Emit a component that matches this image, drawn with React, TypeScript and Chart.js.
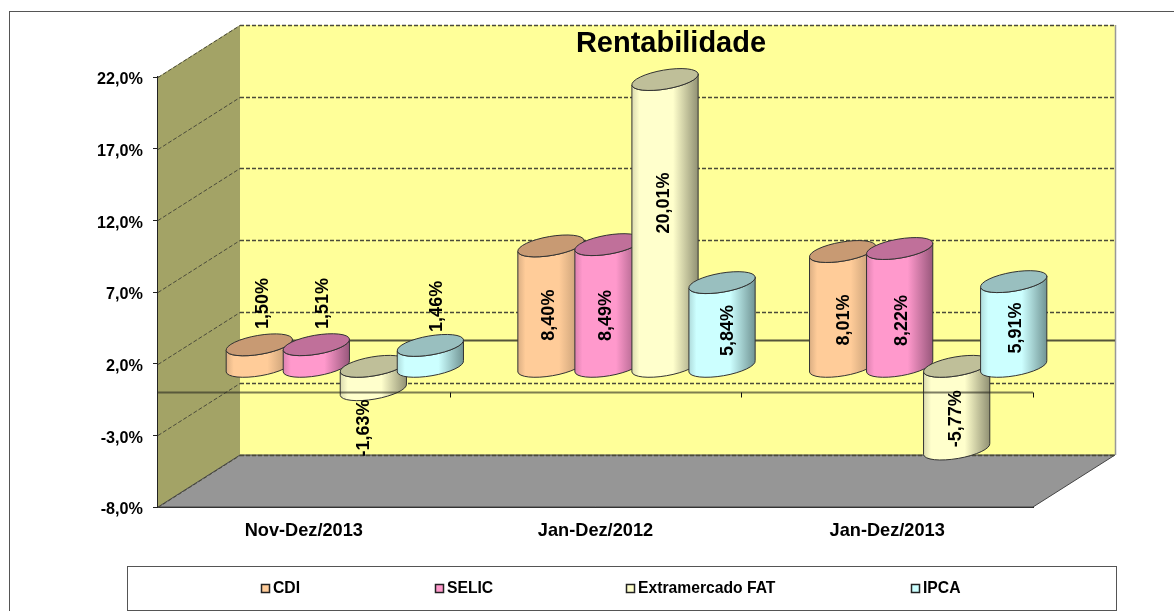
import React, { useEffect, useRef } from "react";
import { Chart, registerables } from "chart.js";

Chart.register(...registerables);

const categories = ["Nov-Dez/2013", "Jan-Dez/2012", "Jan-Dez/2013"];
const cdi = [1.5, 8.4, 8.01];
const selic = [1.51, 8.49, 8.22];
const extramercado = [-1.63, 20.01, -5.77];
const ipca = [1.46, 5.84, 5.91];
const seriesNames = ["CDI", "SELIC", "Extramercado FAT", "IPCA"];

// Styling only: [edge shade, body colour, cap colour, dark right edge]
const palette = [
  ["#d9ad82", "#ffcc99", "#c89a73", "#b5906c"],
  ["#d980ad", "#ff99cc", "#c0709a", "#96567a"],
  ["#d9d9ad", "#ffffcc", "#bfbf99", "#8f8f72"],
  ["#add9d9", "#ccffff", "#99bfbf", "#6f9292"],
];
// Nudge of each data label from the cylinder middle, [dx, dy] by series then category
const labelNudge = [
  [[3.5, -52], [-2, 9], [1, 11]],
  [[7, -52], [-2, 10], [2, 13]],
  [[-9.5, 50], [-1, -20], [-1, 11]],
  [[6.5, -49.5], [6, 6], [2, 4]],
];
const legendTextX = [273, 447, 638, 923];

const FONT = '"Liberation Sans", Arial, sans-serif';
const DX = 82;
const DY = -52;
const RX = 33.6;
const RY = 9.5;
const TILT = -0.17;

const fmtTick = (v: number) => v.toFixed(1).replace(".", ",") + "%";
const fmtLabel = (v: number) => v.toFixed(2).replace(".", ",") + "%";

const drawCylinder = (
  ctx: CanvasRenderingContext2D,
  cx: number,
  yTop: number,
  yBottom: number,
  colors: string[]
) => {
  const grad = ctx.createLinearGradient(cx - RX, 0, cx + RX, 0);
  grad.addColorStop(0, colors[0]);
  grad.addColorStop(0.12, colors[1]);
  grad.addColorStop(0.62, colors[1]);
  grad.addColorStop(1, colors[3]);
  ctx.save();
  ctx.lineWidth = 1;
  ctx.strokeStyle = "#333";
  ctx.beginPath();
  ctx.ellipse(cx, yTop, RX, RY, TILT, Math.PI, Math.PI * 2, true);
  ctx.ellipse(cx, yBottom, RX, RY, TILT, 0, Math.PI, false);
  ctx.closePath();
  ctx.fillStyle = grad;
  ctx.fill();
  ctx.stroke();
  ctx.beginPath();
  ctx.ellipse(cx, yTop, RX, RY, TILT, 0, Math.PI * 2);
  ctx.fillStyle = colors[2];
  ctx.fill();
  ctx.stroke();
  ctx.restore();
};

const scenePlugin = {
  id: "scene",
  beforeDatasetsDraw(chart: any) {
    const { ctx, chartArea: a, scales } = chart;
    const y = scales.y;
    const L = a.left;
    const R = a.right;
    const T = a.top;
    const B = a.bottom;
    ctx.save();
    // frame
    ctx.strokeStyle = "#555";
    ctx.lineWidth = 1;
    ctx.strokeRect(9.5, 11.5, 1175, 640);
    // back wall
    ctx.fillStyle = "#ffff99";
    ctx.fillRect(L + DX, T + DY, R - L, B - T);
    // side wall
    ctx.fillStyle = "#a3a366";
    ctx.beginPath();
    ctx.moveTo(L, T);
    ctx.lineTo(L + DX, T + DY);
    ctx.lineTo(L + DX, B + DY);
    ctx.lineTo(L, B);
    ctx.closePath();
    ctx.fill();
    // floor
    ctx.fillStyle = "#969696";
    ctx.beginPath();
    ctx.moveTo(L, B);
    ctx.lineTo(L + DX, B + DY);
    ctx.lineTo(R + DX, B + DY);
    ctx.lineTo(R, B);
    ctx.closePath();
    ctx.fill();
    ctx.strokeStyle = "#444";
    ctx.stroke();
    ctx.strokeStyle = "#999";
    ctx.lineWidth = 1.5;
    ctx.beginPath();
    ctx.moveTo(R + DX + 0.5, T + DY);
    ctx.lineTo(R + DX + 0.5, B + DY);
    ctx.stroke();
    // gridlines
    ctx.strokeStyle = "#4a4a3a";
    ctx.setLineDash([4, 2]);
    y.ticks.forEach((t: any) => {
      const py = Math.round(y.getPixelForValue(t.value)) + 0.5;
      ctx.lineWidth = 1;
      ctx.beginPath();
      ctx.moveTo(L, py);
      ctx.lineTo(L + DX, py + DY);
      ctx.stroke();
      ctx.lineWidth = 1.6;
      ctx.beginPath();
      ctx.moveTo(L + DX, py + DY);
      ctx.lineTo(R + DX, py + DY);
      ctx.stroke();
    });
    ctx.setLineDash([]);
    // zero line on the back wall
    const z = Math.round(y.getPixelForValue(0)) + 0.5;
    ctx.strokeStyle = "#55553a";
    ctx.lineWidth = 2;
    ctx.beginPath();
    ctx.moveTo(L + DX, z + DY);
    ctx.lineTo(R + DX, z + DY);
    ctx.stroke();
    ctx.restore();

    // title
    ctx.save();
    ctx.fillStyle = "#000";
    ctx.font = `bold 29px ${FONT}`;
    ctx.textAlign = "center";
    ctx.textBaseline = "middle";
    ctx.fillText("Rentabilidade", 671, 44);
    ctx.restore();

    // legend
    ctx.save();
    ctx.strokeStyle = "#555";
    ctx.lineWidth = 1;
    ctx.strokeRect(127.5, 566.5, 989, 44);
    ctx.font = `bold 15.7px ${FONT}`;
    ctx.textBaseline = "middle";
    ctx.textAlign = "left";
    chart.data.datasets.forEach((d: any, i: number) => {
      const xs = legendTextX[i];
      ctx.fillStyle = palette[i][1];
      ctx.strokeStyle = "#222";
      ctx.lineWidth = 1.5;
      ctx.fillRect(xs - 11.5, 584.5, 8, 8);
      ctx.strokeRect(xs - 11.5, 584.5, 8, 8);
      ctx.fillStyle = "#000";
      ctx.fillText(d.label, xs, 589);
    });
    ctx.restore();

    // cylinders, from the bar elements the library laid out
    chart.data.datasets.forEach((d: any, i: number) => {
      chart.getDatasetMeta(i).data.forEach((bar: any) => {
        const cx = bar.x + DX / 2;
        const a1 = bar.y + DY / 2;
        const a2 = bar.base + DY / 2;
        drawCylinder(ctx, cx, Math.min(a1, a2), Math.max(a1, a2), palette[i]);
      });
    });

    // front zero line with its ticks
    ctx.save();
    ctx.strokeStyle = "rgba(40,40,30,0.6)";
    ctx.lineWidth = 2;
    ctx.beginPath();
    ctx.moveTo(L, z);
    ctx.lineTo(R, z);
    ctx.stroke();
    ctx.strokeStyle = "#111";
    ctx.lineWidth = 1;
    const band = (R - L) / categories.length;
    for (let k = 1; k <= categories.length; k++) {
      const px = Math.round(L + band * k) + 0.5;
      ctx.beginPath();
      ctx.moveTo(px, z);
      ctx.lineTo(px, z + 5);
      ctx.stroke();
    }
    ctx.restore();
  },
  afterDatasetsDraw(chart: any) {
    const { ctx } = chart;
    ctx.save();
    ctx.fillStyle = "#000";
    ctx.font = `bold 18px ${FONT}`;
    ctx.textAlign = "center";
    ctx.textBaseline = "middle";
    chart.data.datasets.forEach((d: any, i: number) => {
      chart.getDatasetMeta(i).data.forEach((bar: any, j: number) => {
        const n = labelNudge[i][j];
        const cx = bar.x + DX / 2 + n[0];
        const cy = (bar.y + bar.base) / 2 + DY / 2 + n[1];
        ctx.save();
        ctx.translate(cx, cy);
        ctx.rotate(-Math.PI / 2);
        ctx.fillText(fmtLabel(d.data[j]), 0, 0);
        ctx.restore();
      });
    });
    ctx.restore();
  },
};

export default function App() {
  const ref = useRef<HTMLCanvasElement>(null);
  useEffect(() => {
    const chart = new Chart(ref.current as HTMLCanvasElement, {
      type: "bar",
      data: {
        labels: categories,
        datasets: [cdi, selic, extramercado, ipca].map((data, i) => ({
          label: seriesNames[i],
          data,
          backgroundColor: "rgba(0,0,0,0)",
          borderWidth: 0,
          categoryPercentage: 0.782,
          barPercentage: 1,
        })),
      },
      options: {
        animation: false,
        responsive: false,
        layout: { padding: { left: 80, right: 141, top: 77, bottom: 60 } },
        plugins: { legend: { display: false }, title: { display: false }, tooltip: { enabled: false } },
        scales: {
          x: {
            grid: { display: false, drawTicks: false },
            border: { display: true, color: "#222", width: 2 },
            ticks: { color: "#000", font: { family: FONT, size: 18.2, weight: "bold" }, padding: 13, maxRotation: 0 },
            afterFit: (s: any) => {
              s.height = 44;
              s.paddingLeft = 0;
              s.paddingRight = 0;
            },
          },
          y: {
            min: -8,
            max: 22,
            ticks: {
              stepSize: 5,
              color: "#000",
              font: { family: FONT, size: 16.2, weight: "bold" },
              padding: 10,
              labelOffset: 3,
              callback: (v: any) => fmtTick(Number(v)),
            },
            grid: { drawOnChartArea: false, color: "#222", tickLength: 5 },
            border: { display: true, color: "#222", width: 1.5 },
            afterFit: (s: any) => {
              s.width = 78;
              s.paddingTop = 0;
              s.paddingBottom = 0;
            },
          },
        },
      },
      plugins: [scenePlugin],
    } as any);
    return () => chart.destroy();
  }, []);
  return (
    <canvas
      ref={ref}
      width={1174}
      height={611}
      style={{ position: "fixed", left: 0, top: 0, display: "block", width: 1174, height: 611 }}
    />
  );
}
